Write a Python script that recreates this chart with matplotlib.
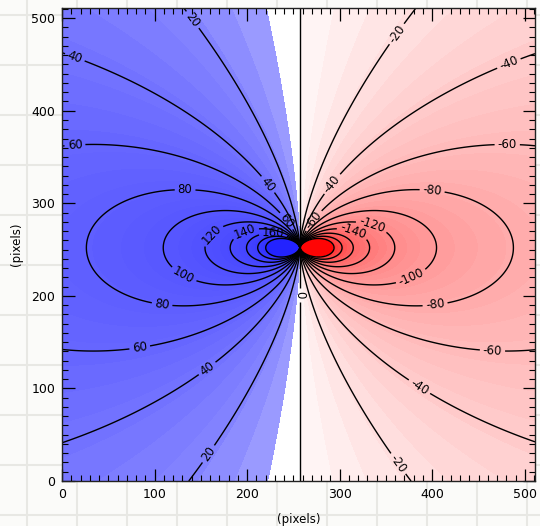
import numpy as np
import matplotlib
matplotlib.use("Agg")
import matplotlib.pyplot as plt
from matplotlib.colors import ListedColormap, BoundaryNorm
from matplotlib.ticker import MultipleLocator

# ---- field model (dipole-like map) ----
grid_size = 512
center_x = 257.0
center_y = 252.0
amplitude = 1215.0
y_stretch = 2.0

# ---- contour line levels ----
line_levels_neg = [-200, -180, -160, -140, -120, -100, -80, -60, -40, -20]
line_levels_pos = [20, 40, 60, 80, 100, 120, 140, 160, 180, 200]
zero_level = [0]

# ---- filled band settings ----
fill_step = 6.25
fill_max = 200.0
blue_anchor_vals = [6.25, 20, 40, 60, 80, 120, 160, 200]
blue_anchor_gray = [160, 132, 114, 102, 94, 80, 68, 50]
red_anchor_vals = [0, 20, 40, 60, 80, 120, 160, 200]
red_anchor_gray = [248, 224, 203, 186, 170, 138, 100, 50]
blue_peak = (35, 35, 255)
red_peak = (255, 5, 5)

# ---- contour label positions (data coords) ----
label_pos = [
    (138, 496), (14, 458), (14, 363), (133, 317), (222, 320), (244, 282),
    (162, 266), (198, 269), (228, 268), (130, 220), (108, 190), (84, 144),
    (158, 120), (160, 28),
    (363, 482), (482, 453), (481, 364), (400, 315), (293, 320), (271, 282),
    (335, 277), (314, 269), (376, 223), (405, 174), (465, 140), (385, 100),
    (365, 20), (257, 201),
]

x = np.arange(grid_size) + 0.0
y = np.arange(grid_size) + 0.0
X, Y = np.meshgrid(x, y)
dx = center_x - X
dy = Y - center_y
Z = amplitude * dx / np.power(dx**2 + y_stretch * dy**2 + 1e-6, 0.75)

# band edges and colors
edges = np.arange(-fill_max, fill_max + fill_step / 2, fill_step)
band_colors = []
for lo, hi in zip(edges[:-1], edges[1:]):
    mid = 0.5 * (lo + hi)
    if mid > 0:
        if hi <= fill_step + 1e-9:
            band_colors.append((1, 1, 1))
        else:
            g = np.interp(mid, blue_anchor_vals, blue_anchor_gray) / 255.0
            band_colors.append((g, g, 1.0))
    else:
        g = np.interp(-mid, red_anchor_vals, red_anchor_gray) / 255.0
        band_colors.append((1.0, g, g))
cmap = ListedColormap(band_colors)
cmap.set_over(np.array(blue_peak) / 255.0)
cmap.set_under(np.array(red_peak) / 255.0)
norm = BoundaryNorm(edges, cmap.N)

fig = plt.figure(figsize=(5.40, 5.26), dpi=100)
fig.patch.set_facecolor("#fbfbf9")

# faint paper grid in the background
for gx in range(27, 541, 50):
    fig.add_artist(plt.Line2D([gx / 540, gx / 540], [0, 1], color="#e8e8e4", lw=1.5, zorder=0))
for gy in range(15, 527, 50):
    fig.add_artist(plt.Line2D([0, 1], [1 - gy / 526, 1 - gy / 526], color="#e8e8e4", lw=1.5, zorder=0))

ax = fig.add_axes([62 / 540, 1 - 481 / 526, 473 / 540, 473 / 526])
ax.contourf(X, Y, Z, levels=edges, cmap=cmap, norm=norm, extend="both")
cs = ax.contour(X, Y, Z, levels=line_levels_neg + zero_level + line_levels_pos,
                colors="black", linewidths=1.0, linestyles="solid")
ax.clabel(cs, fmt="%d", fontsize=8.5, inline=True, inline_spacing=3, manual=label_pos)

ax.set_xlim(0, 511)
ax.set_ylim(0, 511)
ax.xaxis.set_major_locator(MultipleLocator(100))
ax.xaxis.set_minor_locator(MultipleLocator(10))
ax.yaxis.set_major_locator(MultipleLocator(100))
ax.yaxis.set_minor_locator(MultipleLocator(10))
ax.tick_params(which="both", direction="in", top=True, right=True, colors="black", labelsize=9)
ax.tick_params(which="major", length=9, width=0.9, pad=5)
ax.tick_params(which="minor", length=4, width=0.8)
ax.set_xlabel("(pixels)", fontsize=8.5, labelpad=9)
ax.set_ylabel("(pixels)", fontsize=8.5, labelpad=6)
for s in ax.spines.values():
    s.set_linewidth(1.0)
    s.set_color("#222222")
ax.set_facecolor("white")

fig.savefig("out.png", dpi=100, facecolor=fig.get_facecolor())
